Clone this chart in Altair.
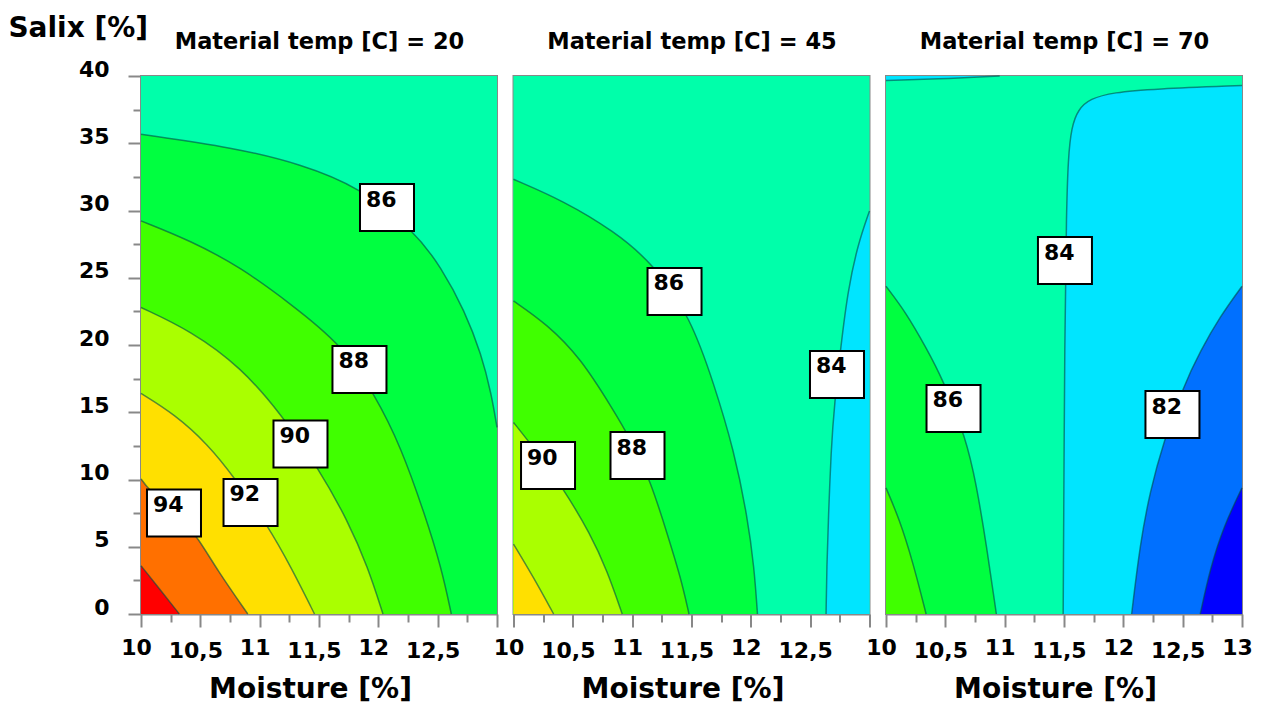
import altair as alt
import pandas as pd

FONT = "DejaVu Sans"

# ---------------- data ----------------
TEMPS = [20, 45, 70]
MOISTURE_RANGE = [10, 13]
SALIX_RANGE = [0, 40]
MOISTURE_TICKS = [10, 10.25, 10.5, 10.75, 11, 11.25, 11.5, 11.75, 12, 12.25, 12.5, 12.75, 13]
SALIX_TICKS = [0, 2.5, 5, 7.5, 10, 12.5, 15, 17.5, 20, 22.5, 25, 27.5, 30, 32.5, 35, 37.5, 40]

BANDS = ["<80", "80-82", "82-84", "84-86", "86-88", "88-90", "90-92", "92-94", "94-96", ">96"]
BAND_COLORS = ["#0000FF", "#0070FF", "#00E5FF", "#00FFAA", "#00FF40",
               "#40FF00", "#AAFF00", "#FFE000", "#FF7000", "#FF0000"]

# panel extent (used as the background band)
FULL = [(10, 40), (13, 40)]

# contour lines, (moisture, salix) pairs -- Material temp = 20
T20_86 = [(10, 35.67), (10.787, 34.67), (11.348, 33.45), (11.848, 31.71), (12.303, 28.49),
          (12.531, 25.76), (12.728, 22.54), (12.868, 19.32), (12.953, 16.35), (13.0, 13.87)]
T20_88 = [(10, 29.23), (10.422, 27.74), (10.844, 25.76), (11.265, 23.03), (11.687, 20.06),
          (11.968, 16.35), (12.193, 12.38), (12.39, 7.43), (12.531, 3.47), (12.615, 0)]
T20_90 = [(10, 22.79), (10.422, 21.05), (10.844, 18.33), (11.181, 14.86), (11.49, 10.90),
          (11.743, 6.94), (11.912, 3.47), (12.039, 0)]
T20_92 = [(10, 16.40), (10.281, 14.86), (10.562, 12.63), (10.787, 10.15), (11.069, 6.56),
          (11.265, 3.47), (11.462, 0)]
T20_94 = [(10, 10.05), (10.06, 9.3), (10.2, 8.3), (10.35, 7.0), (10.478, 5.70),
          (10.646, 3.22), (10.9, 0)]
T20_96 = [(10, 3.59), (10.169, 1.73), (10.323, 0)]

# Material temp = 45
T45_84 = [(12.634, 0), (12.64, 3.47), (12.654, 7.18), (12.676, 12.14), (12.704, 15.60),
          (12.761, 20.06), (12.817, 24.02), (12.902, 27.49), (13.0, 29.97)]
T45_86 = [(10, 32.32), (10.423, 30.71), (10.845, 28.48), (11.183, 26.01), (11.493, 22.04),
          (11.69, 17.09), (11.859, 12.14), (11.972, 7.18), (12.028, 3.47), (12.056, 0)]
T45_88 = [(10, 23.28), (10.282, 21.55), (10.563, 19.07), (10.845, 15.11), (10.986, 13.0),
          (11.155, 9.91), (11.296, 5.94), (11.409, 2.72), (11.479, 0)]
T45_90 = [(10, 14.24), (10.169, 12.38), (10.423, 9.29), (10.648, 5.94), (10.789, 3.22), (10.916, 0)]
T45_92 = [(10, 5.20), (10.169, 2.72), (10.338, 0)]

# Material temp = 70
T70_80 = [(12.648, 0), (12.732, 3.39), (12.845, 6.51), (13, 9.38)]
T70_82 = [(12.07, 0), (12.141, 5.21), (12.225, 9.12), (12.338, 12.77), (12.507, 16.94),
          (12.648, 19.54), (12.817, 22.15), (13, 24.37)]
T70_84 = [(11.493, 0), (11.507, 22.15), (11.521, 29.97), (11.535, 33.88), (11.563, 36.22),
          (11.62, 37.52), (11.718, 38.31), (11.915, 38.78), (12.254, 39.04), (13.0, 39.30)]
T70_84_TOP = [(10, 39.66), (10.423, 39.77), (10.958, 40)]
T70_86 = [(10, 24.37), (10.169, 22.41), (10.338, 19.80), (10.479, 17.46), (10.676, 13.03),
          (10.761, 9.64), (10.845, 5.21), (10.93, 0)]
T70_88 = [(10, 9.38), (10.113, 7.04), (10.225, 3.91), (10.338, 0)]

# contour labels
T20_LABELS = ["86", "88", "90", "92", "94"]
T20_LABEL_X = [12.073, 11.841, 11.344, 10.923, 10.278]
T20_LABEL_Y = [30.22, 18.18, 12.64, 8.29, 7.51]
T45_LABELS = ["86", "90", "88", "84"]
T45_LABEL_X = [11.357, 10.291, 11.045, 12.726]
T45_LABEL_Y = [23.98, 11.04, 11.78, 17.81]
T70_LABELS = ["84", "86", "82"]
T70_LABEL_X = [11.508, 10.569, 12.414]
T70_LABEL_Y = [26.28, 15.28, 14.83]

# filled regions: (band, side of the curve, curve)
PANELS = [
    {
        "temp": TEMPS[0],
        "regions": [("84-86", "below", FULL), ("86-88", "below", T20_86), ("88-90", "below", T20_88),
                    ("90-92", "below", T20_90), ("92-94", "below", T20_92), ("94-96", "below", T20_94),
                    (">96", "below", T20_96)],
        "lines": [T20_86, T20_88, T20_90, T20_92, T20_94, T20_96],
        "labels": (T20_LABELS, T20_LABEL_X, T20_LABEL_Y),
    },
    {
        "temp": TEMPS[1],
        "regions": [("84-86", "below", FULL), ("86-88", "below", T45_86), ("88-90", "below", T45_88),
                    ("90-92", "below", T45_90), ("92-94", "below", T45_92), ("82-84", "below", T45_84)],
        "lines": [T45_84, T45_86, T45_88, T45_90, T45_92],
        "labels": (T45_LABELS, T45_LABEL_X, T45_LABEL_Y),
    },
    {
        "temp": TEMPS[2],
        "regions": [("84-86", "below", FULL), ("86-88", "below", T70_86), ("88-90", "below", T70_88),
                    ("82-84", "below", T70_84), ("80-82", "below", T70_82), ("<80", "below", T70_80),
                    ("82-84", "above", T70_84_TOP)],
        "lines": [T70_84, T70_84_TOP, T70_86, T70_88, T70_82, T70_80],
        "labels": (T70_LABELS, T70_LABEL_X, T70_LABEL_Y),
    },
]

# ---------------- chart ----------------
GREY = "#888888"
BOX_PATH = "M-1,-0.87L1,-0.87L1,0.87L-1,0.87Z"
COLOR = alt.Color("band:N", scale=alt.Scale(domain=BANDS, range=BAND_COLORS), legend=None)
CURVE = "basis"
PANEL_W, PANEL_H = 356, 538


def x_axis(show_last):
    hide = "datum.value % 0.5 != 0" if show_last else "(datum.value % 0.5 != 0 || datum.value >= 13)"
    return alt.Axis(
        values=MOISTURE_TICKS, title="Moisture [%]", grid=False,
        labelExpr=hide + " ? '' : replace(format(datum.value, '~g'), '.', ',')",
        labelFont=FONT, labelFontSize=22, labelFontWeight="bold", labelColor="black",
        labelFlush=False, labelOverlap=False, labelBound=False, labelOffset=-5,
        labelPadding={"condition": {"test": "datum.value % 1 != 0", "value": 13}, "value": 10},
        tickSize={"condition": {"test": "datum.value % 0.5 != 0", "value": 8}, "value": 13},
        tickColor=GREY, tickWidth=2, domainColor=GREY, domainWidth=2,
        titleFont=FONT, titleFontSize=28, titleFontWeight="bold", titleColor="black",
        titlePadding=14, titleX=PANEL_W / 2 - 9, titleAlign="center",
    )


def y_axis(first, temp):
    # the panel heading is carried by the (horizontal) y-axis title
    head = dict(title=f"Material temp [C] = {temp}", titleFont=FONT, titleFontSize=22.5,
                titleFontWeight="bold", titleColor="black", titleAngle=0,
                titleX=PANEL_W / 2, titleY=-28, titleAlign="center", titleBaseline="alphabetic")
    if not first:
        return alt.Axis(labels=False, ticks=False, domain=False, grid=False, **head)
    return alt.Axis(
        values=SALIX_TICKS, grid=False,
        labelExpr="datum.value % 5 != 0 ? '' : format(datum.value, 'd')",
        labelFont=FONT, labelFontSize=22, labelFontWeight="bold", labelColor="black",
        labelBaseline="alphabetic", labelPadding=19, labelOverlap=False, labelFlush=False,
        tickSize={"condition": {"test": "datum.value % 5 != 0", "value": 8}, "value": 13},
        tickColor=GREY, tickWidth=2, domainColor=GREY, domainWidth=2, **head,
    )


def make_panel(i, spec):
    x = alt.X("x:Q", scale=alt.Scale(domain=MOISTURE_RANGE, nice=False, zero=False),
              axis=x_axis(i == len(PANELS) - 1))
    y = alt.Y("y:Q", scale=alt.Scale(domain=SALIX_RANGE, nice=False, zero=False),
              axis=y_axis(i == 0, spec["temp"]))
    layers = []
    for band, side, pts in spec["regions"]:
        df = pd.DataFrame({"x": [p[0] for p in pts], "y": [p[1] for p in pts]})
        df["base"] = SALIX_RANGE[0] if side == "below" else SALIX_RANGE[1]
        df["band"] = band
        layers.append(alt.Chart(df).mark_area(opacity=1, interpolate=CURVE).encode(
            x=x, y=y, y2="base:Q", color=COLOR))
    for pts in spec["lines"]:
        df = pd.DataFrame({"x": [p[0] for p in pts], "y": [p[1] for p in pts],
                           "i": list(range(len(pts)))})
        layers.append(alt.Chart(df).mark_line(color="#004a4a", strokeWidth=1.5, opacity=0.6,
                                              interpolate=CURVE).encode(x=x, y=y, order="i:Q"))
    texts, lx, ly = spec["labels"]
    ldf = pd.DataFrame({"x": lx, "y": ly, "t": texts})
    layers.append(alt.Chart(ldf).mark_point(shape=BOX_PATH, size=2916, filled=True, fill="white",
                                            stroke="black", strokeWidth=2, opacity=1).encode(x=x, y=y))
    layers.append(alt.Chart(ldf).mark_text(align="left", baseline="alphabetic", dx=-21, dy=-1,
                                           font=FONT, fontSize=22, fontWeight="bold",
                                           color="black").encode(x=x, y=y, text="t:N"))
    return alt.layer(*layers).properties(width=PANEL_W, height=PANEL_H)


chart = alt.hconcat(*[make_panel(i, s) for i, s in enumerate(PANELS)], spacing=16.5,
                    bounds="flush").configure_view(stroke=GREY, strokeWidth=2).properties(
    title=alt.TitleParams("Salix [%]", font=FONT, fontSize=28, fontWeight="bold", color="black",
                          anchor="start", baseline="alphabetic", offset=-36, dx=-69),
    padding={"left": 0, "top": 7, "right": 5, "bottom": 0})

chart.save("out.html", embed_options={"renderer": "svg", "actions": False})
